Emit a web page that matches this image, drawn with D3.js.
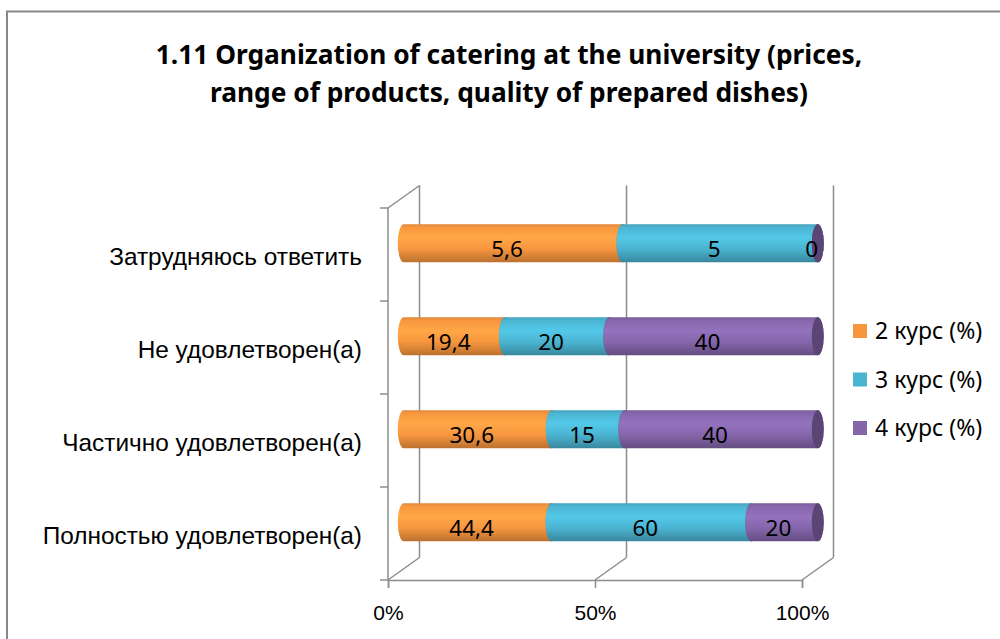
<!DOCTYPE html>
<html>
<head>
<meta charset="utf-8">
<script src="https://cdn.jsdelivr.net/npm/d3@7"></script>
<style>
  body { margin: 0; background: #fff; }
  svg { display: block; font-family: "Noto Sans", "Open Sans", sans-serif; }
</style>
</head>
<body>
<div id="chart"></div>
<script>
// categories top to bottom
var categories = ['Затрудняюсь ответить', 'Не удовлетворен(а)', 'Частично удовлетворен(а)', 'Полностью удовлетворен(а)'];
var seriesNames = ['2 курс (%)', '3 курс (%)', '4 курс (%)'];
var course2 = [5.6, 19.4, 30.6, 44.4];
var course3 = [5, 20, 15, 60];
var course4 = [0, 40, 40, 20];
var xTicks = [0, 0.5, 1];
var titleLines = ['1.11 Organization of catering at the university (prices,', 'range of products, quality of prepared dishes)'];

var colors = ['#f7963f', '#4bb4d1', '#8566ab'];
var capColors = ['#c8722a', '#2f8aa3', '#5b4575'];

var width = 1000, height = 639;
var depthX = 31.5, depthY = -22.5;
var gridColor = '#8c8c8c';

var svg = d3.select('#chart').append('svg')
    .attr('width', width)
    .attr('height', height);

// outer frame
svg.append('rect')
    .attr('x', 7).attr('y', 11.5)
    .attr('width', 1010).attr('height', 700)
    .attr('fill', 'none')
    .attr('stroke', '#878787')
    .attr('stroke-width', 2);

// title
svg.append('g').selectAll('text')
    .data(titleLines)
    .join('text')
    .attr('x', 509)
    .attr('y', function(d, i) { return 64 + i * 38; })
    .attr('text-anchor', 'middle')
    .attr('font-weight', 'bold')
    .attr('font-size', 26.3)
    .attr('fill', '#000')
    .text(function(d) { return d; });

var x = d3.scaleLinear().domain([0, 1]).range([388, 802]);
var y = d3.scaleBand().domain(categories).range([208, 580]);

// stacked shares
var rows = categories.map(function(c, i) {
    var vals = [course2[i], course3[i], course4[i]];
    var total = d3.sum(vals), acc = 0;
    return vals.map(function(v, k) {
        var seg = { cat: c, k: k, value: v, x0: acc / total };
        acc += v;
        seg.x1 = acc / total;
        return seg;
    });
});

// gradients for cylinder shading
var defs = svg.append('defs');
colors.forEach(function(c, k) {
    var g = defs.append('linearGradient')
        .attr('id', 'cyl' + k)
        .attr('x1', 0).attr('y1', 0).attr('x2', 0).attr('y2', 1);
    var base = d3.color(c);
    g.append('stop').attr('offset', '0%').attr('stop-color', base.darker(0.3));
    g.append('stop').attr('offset', '8%').attr('stop-color', base);
    g.append('stop').attr('offset', '35%').attr('stop-color', base.brighter(0.3));
    g.append('stop').attr('offset', '65%').attr('stop-color', base);
    g.append('stop').attr('offset', '100%').attr('stop-color', base.darker(0.8));
});

// back wall grid lines
var grid = svg.append('g')
    .attr('stroke', gridColor)
    .attr('stroke-width', 1.5)
    .attr('fill', 'none');

grid.selectAll('.back')
    .data(xTicks)
    .join('line')
    .attr('x1', function(d) { return x(d) + depthX; })
    .attr('x2', function(d) { return x(d) + depthX; })
    .attr('y1', y.range()[0] + depthY)
    .attr('y2', y.range()[1] + depthY);

// floor slants
grid.selectAll('.floor')
    .data(xTicks)
    .join('line')
    .attr('x1', function(d) { return x(d); })
    .attr('x2', function(d) { return x(d) + depthX; })
    .attr('y1', y.range()[1])
    .attr('y2', y.range()[1] + depthY);

// left wall
grid.append('line')
    .attr('x1', x(0)).attr('x2', x(0))
    .attr('y1', y.range()[0]).attr('y2', y.range()[1]);
grid.append('line')
    .attr('x1', x(0)).attr('x2', x(0) + depthX)
    .attr('y1', y.range()[0]).attr('y2', y.range()[0] + depthY);

// category ticks between bands
var bounds = categories.map(function(c) { return y(c); }).concat([y.range()[1]]);
grid.selectAll('.ctick')
    .data(bounds)
    .join('line')
    .attr('x1', x(0) - 8).attr('x2', x(0))
    .attr('y1', function(d) { return d; })
    .attr('y2', function(d) { return d; });

// x axis
var xAxis = svg.append('g')
    .attr('transform', 'translate(0,' + y.range()[1] + ')')
    .call(d3.axisBottom(x).tickValues(xTicks).tickFormat(d3.format('.0%')).tickSize(8).tickPadding(17));
xAxis.select('.domain').attr('stroke', gridColor).attr('stroke-width', 1.5);
xAxis.selectAll('.tick line').attr('stroke', gridColor).attr('stroke-width', 1.5);
xAxis.selectAll('text').attr('font-size', 21).attr('font-family', null).attr('fill', '#000');

// category axis
var yAxis = svg.append('g')
    .attr('transform', 'translate(' + x(0) + ',0)')
    .call(d3.axisLeft(y).tickSize(0).tickPadding(26));
yAxis.select('.domain').remove();
yAxis.selectAll('text').attr('font-size', 24.4).attr('dy', '0.45em').attr('font-family', null).attr('fill', '#000');

// bars (cylinders at mid depth)
var rx = 6;
var barH = y.bandwidth() * 0.41;
var bx = function(v) { return x(v) + depthX / 2; };
var fmt = d3.formatLocale({ decimal: ',', thousands: ' ', grouping: [3], currency: ['', ''] }).format('~g');

function bodyPath(a, b, cy, h) {
    return 'M' + a + ',' + (cy - h) +
        'L' + b + ',' + (cy - h) +
        'A' + rx + ',' + h + ' 0 0 1 ' + b + ',' + (cy + h) +
        'L' + a + ',' + (cy + h) +
        'A' + rx + ',' + h + ' 0 0 1 ' + a + ',' + (cy - h) + 'Z';
}

var barG = svg.append('g');
rows.forEach(function(segs) {
    segs.forEach(function(s) {
        var cy = y(s.cat) + y.bandwidth() / 2 + depthY / 2;
        var a = bx(s.x0), b = bx(s.x1), h = barH / 2;
        barG.append('path')
            .attr('d', bodyPath(a, b, cy, h))
            .attr('fill', 'url(#cyl' + s.k + ')');
        barG.append('ellipse')
            .attr('cx', b).attr('cy', cy)
            .attr('rx', rx).attr('ry', h)
            .attr('fill', capColors[s.k]);
    });
});

// data labels
var labelG = svg.append('g');
rows.forEach(function(segs) {
    segs.forEach(function(s) {
        var cy = y(s.cat) + y.bandwidth() / 2 + depthY / 2;
        labelG.append('text')
            .attr('x', (bx(s.x0) + bx(s.x1)) / 2 - rx)
            .attr('y', cy + 14)
            .attr('text-anchor', 'middle')
            .attr('font-size', 22.5)
            .attr('fill', '#000')
            .text(fmt(s.value));
    });
});

// legend
var legend = svg.append('g')
    .selectAll('g')
    .data(seriesNames)
    .join('g')
    .attr('transform', function(d, i) { return 'translate(853,' + (331 + i * 48.5) + ')'; });
legend.append('rect')
    .attr('x', 0).attr('y', -7)
    .attr('width', 14).attr('height', 14)
    .attr('fill', function(d, i) { return colors[i]; });
legend.append('text')
    .attr('x', 22).attr('y', 8)
    .attr('font-size', 23)
    .attr('fill', '#000')
    .text(function(d) { return d; });
</script>
</body>
</html>
